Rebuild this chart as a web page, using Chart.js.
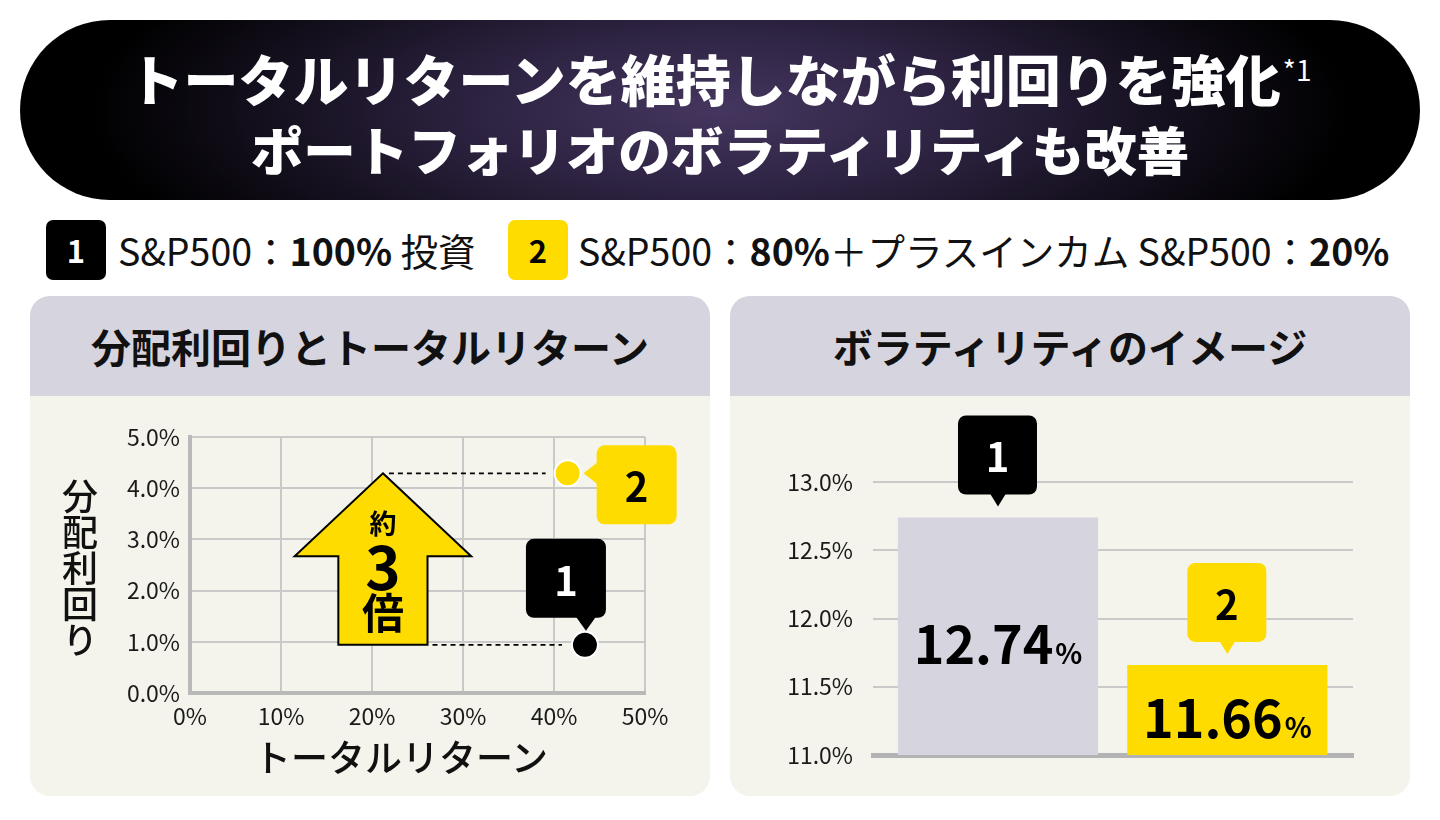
<!DOCTYPE html>
<html lang="ja">
<head>
<meta charset="utf-8">
<script src="https://cdn.jsdelivr.net/npm/chart.js@4.4.1/dist/chart.umd.min.js"></script>
<style>
  body { margin:0; width:1440px; height:820px; background:#fff; position:relative; overflow:hidden;
         font-family:"Noto Sans CJK JP","Noto Sans",sans-serif; color:#111; }
  .header { position:absolute; left:20px; top:20px; width:1400px; height:180px; border-radius:90px;
            background:radial-gradient(ellipse 45% 120% at 50% 50%, #45365f 0%, #2c2240 40%, #000 100%); }
  .title { position:absolute; left:0; width:100%; text-align:center; color:#fff; font-weight:900;
           font-size:55px; line-height:56px; white-space:nowrap; }
  .title .note { font-size:28px; font-weight:400; position:relative; top:-20px; margin-left:2px; }
  .badge { position:absolute; top:220px; width:60px; height:60px; border-radius:7px; text-align:center;
           line-height:60px; font-size:31px; font-weight:700; }
  .b1 { background:#000; color:#fff; }
  .b2 { background:#ffdc00; color:#000; }
  .leg { position:absolute; top:226px; font-size:37.5px; line-height:48px; white-space:nowrap; }
  .leg b { font-weight:700; }
  .panel { position:absolute; top:296px; width:680px; height:500px; border-radius:20px; overflow:hidden;
           background:#f4f4ec; }
  .panel .ph { height:100px; background:#d6d5df; text-align:center; line-height:100px;
               font-size:40px; font-weight:700; }
  .panel canvas { position:absolute; left:0; top:100px; }
  .ytitle { position:absolute; left:32px; top:182px; writing-mode:vertical-rl; text-orientation:upright;
            font-size:36px; line-height:36px; font-weight:500; }
  .xtitle { position:absolute; left:130px; width:482px; top:438px; text-align:center; font-size:37px;
            line-height:44px; font-weight:500; }
</style>
</head>
<body>
<div class="header">
  <div class="title" style="top:29px">トータルリターンを維持しながら利回りを強化<span class="note">*1</span></div>
  <div class="title" style="top:100px; font-size:52.5px">ポートフォリオのボラティリティも改善</div>
</div>

<div class="badge b1" style="left:46px">1</div>
<div class="leg" style="left:118px">S&amp;P500：<b>100%</b> 投資</div>
<div class="badge b2" style="left:508px">2</div>
<div class="leg" style="left:578px">S&amp;P500：<b>80%</b>＋プラスインカム S&amp;P500：<b>20%</b></div>

<div class="panel" style="left:30px">
  <div class="ph">分配利回りとトータルリターン</div>
  <canvas id="scatterChart" width="680" height="400"></canvas>
  <div class="ytitle">分配利回り</div>
  <div class="xtitle">トータルリターン</div>
</div>

<div class="panel" style="left:730px">
  <div class="ph">ボラティリティのイメージ</div>
  <canvas id="volChart" width="680" height="400"></canvas>
</div>

<script>
// portfolios: 1 = S&P500 100%, 2 = S&P500 80% + plus income 20%
const portfolioNames = ["1", "2"];
const totalReturn = [43.4, 41.5];   // %
const distYield = [0.94, 4.29];     // %
const returnTicks = [0, 10, 20, 30, 40, 50];
const yieldTicks = [0, 1, 2, 3, 4, 5];

const volatility = [12.74, 11.66];  // %
const volTicks = [11.0, 11.5, 12.0, 12.5, 13.0];

const FONT = '"Noto Sans CJK JP", "Noto Sans", sans-serif';
const YELLOW = "#ffdc00";
const GRID = "#c9c9c9";

// rounded box with a little pointer triangle
function callout(ctx, bx, by, w, h, fill, label, textColor, tri) {
  ctx.save();
  ctx.fillStyle = fill;
  ctx.beginPath();
  ctx.roundRect(bx, by, w, h, 8);
  ctx.fill();
  ctx.beginPath();
  ctx.moveTo(tri[0], tri[1]);
  ctx.lineTo(tri[2], tri[3]);
  ctx.lineTo(tri[4], tri[5]);
  ctx.closePath();
  ctx.fill();
  ctx.fillStyle = textColor;
  ctx.font = "700 40px " + FONT;
  ctx.textAlign = "center";
  ctx.textBaseline = "middle";
  ctx.fillText(label, bx + w / 2, by + h / 2 + 2);
  ctx.restore();
}

// arrow shape in data units
const arrowCenter = 21.2, headHalf = 9.7, shaftHalf = 4.9, headBase = 2.67;

const scatterDecor = {
  id: "scatterDecor",
  beforeDatasetsDraw(chart) {
    const { ctx, scales: { x, y } } = chart;
    const tipY = y.getPixelForValue(distYield[1]);
    const botY = y.getPixelForValue(distYield[0]);
    const cx = x.getPixelForValue(arrowCenter);
    const hl = x.getPixelForValue(arrowCenter - headHalf);
    const hr = x.getPixelForValue(arrowCenter + headHalf);
    const sl = x.getPixelForValue(arrowCenter - shaftHalf);
    const sr = x.getPixelForValue(arrowCenter + shaftHalf);
    const hb = y.getPixelForValue(headBase);

    ctx.save();
    ctx.beginPath();
    ctx.moveTo(cx, tipY);
    ctx.lineTo(hr, hb);
    ctx.lineTo(sr, hb);
    ctx.lineTo(sr, botY);
    ctx.lineTo(sl, botY);
    ctx.lineTo(sl, hb);
    ctx.lineTo(hl, hb);
    ctx.closePath();
    ctx.fillStyle = YELLOW;
    ctx.fill();
    ctx.lineWidth = 2;
    ctx.strokeStyle = "#000";
    ctx.stroke();

    ctx.fillStyle = "#000";
    ctx.textAlign = "center";
    ctx.textBaseline = "middle";
    ctx.font = "700 27px " + FONT;
    ctx.fillText("約", cx, tipY + 50);
    ctx.font = "700 60px " + FONT;
    ctx.fillText("3", cx, tipY + 94);
    ctx.font = "700 42px " + FONT;
    ctx.fillText("倍", cx, tipY + 140);

    // dashed guides
    const p1x = x.getPixelForValue(totalReturn[0]);
    const p2x = x.getPixelForValue(totalReturn[1]);
    ctx.setLineDash([5, 4]);
    ctx.lineWidth = 1.6;
    ctx.strokeStyle = "#000";
    ctx.beginPath();
    ctx.moveTo(cx + 6, tipY);
    ctx.lineTo(p2x - 22, tipY);
    ctx.moveTo(sr + 5, botY);
    ctx.lineTo(p1x - 23, botY);
    ctx.stroke();
    ctx.restore();
  },
  afterDatasetsDraw(chart) {
    const { ctx, scales: { x, y } } = chart;
    const p1x = x.getPixelForValue(totalReturn[0]), p1y = y.getPixelForValue(distYield[0]);
    const p2x = x.getPixelForValue(totalReturn[1]), p2y = y.getPixelForValue(distYield[1]);
    callout(ctx, p2x + 29, p2y - 28, 80, 79, YELLOW, portfolioNames[1], "#000",
      [p2x + 30, p2y - 11, p2x + 30, p2y + 11, p2x + 16, p2y]);
    callout(ctx, p1x - 59, p1y - 106, 80, 79, "#000", portfolioNames[0], "#fff",
      [p1x - 9, p1y - 28, p1x + 11, p1y - 28, p1x + 1, p1y - 14]);
  }
};

new Chart(document.getElementById("scatterChart"), {
  type: "scatter",
  data: {
    datasets: [{
      data: totalReturn.map((r, i) => ({ x: r, y: distYield[i] })),
      backgroundColor: ["#000", YELLOW],
      borderColor: "#fff",
      borderWidth: 2,
      pointRadius: 13,
      pointHoverRadius: 13
    }]
  },
  options: {
    responsive: false,
    animation: false,
    layout: { padding: { left: 0, top: 41, right: 65, bottom: 0 } },
    plugins: { legend: { display: false }, tooltip: { enabled: false } },
    scales: {
      x: {
        type: "linear", min: 0, max: 50,
        afterBuildTicks: s => { s.ticks = returnTicks.map(v => ({ value: v })); },
        afterFit: s => { s.height = 103; },
        ticks: { callback: v => v + "%", color: "#1a1a1a", padding: 9, font: { family: FONT, size: 23 } },
        grid: { color: GRID, lineWidth: 2, drawTicks: false },
        border: { color: "#b9b9b9", width: 4 }
      },
      y: {
        min: 0, max: 5,
        afterBuildTicks: s => { s.ticks = yieldTicks.map(v => ({ value: v })); },
        afterFit: s => { s.width = 160; },
        ticks: { callback: v => v.toFixed(1) + "%", color: "#1a1a1a", padding: 10, font: { family: FONT, size: 23 } },
        grid: { color: GRID, lineWidth: 2, drawTicks: false },
        border: { color: "#b9b9b9", width: 4 }
      }
    }
  },
  plugins: [scatterDecor]
});

const volDecor = {
  id: "volDecor",
  afterDatasetsDraw(chart) {
    const { ctx, chartArea } = chart;
    const bars = chart.getDatasetMeta(0).data;
    bars.forEach((bar, i) => {
      const top = bar.y;
      const mid = (top + chartArea.bottom) / 2 + 8;
      const num = volatility[i].toFixed(2);
      ctx.save();
      ctx.fillStyle = "#000";
      ctx.textBaseline = "middle";
      ctx.font = "700 52px " + FONT;
      const wn = ctx.measureText(num).width;
      ctx.font = "700 28px " + FONT;
      const wp = ctx.measureText("%").width;
      const start = bar.x - (wn + wp + 2) / 2;
      ctx.textAlign = "left";
      ctx.font = "700 52px " + FONT;
      ctx.fillText(num, start, mid);
      ctx.font = "700 28px " + FONT;
      ctx.fillText("%", start + wn + 2, mid + 9);
      ctx.restore();

      const fill = i === 0 ? "#000" : YELLOW;
      const tc = i === 0 ? "#fff" : "#000";
      const bb = top - 23;
      callout(ctx, bar.x - 40, bb - 79, 79, 79, fill, portfolioNames[i], tc,
        [bar.x - 8, bb - 1, bar.x + 8, bb - 1, bar.x, top - 11]);
    });
  }
};

new Chart(document.getElementById("volChart"), {
  type: "bar",
  data: {
    datasets: [{
      data: volatility.map((v, i) => ({ x: i, y: v })),
      backgroundColor: ["#d6d5df", YELLOW],
      borderWidth: 0,
      barPercentage: 0.873,
      categoryPercentage: 1.0
    }]
  },
  options: {
    responsive: false,
    animation: false,
    layout: { padding: { left: 0, top: 86, right: 57, bottom: 41 } },
    plugins: { legend: { display: false }, tooltip: { enabled: false } },
    scales: {
      x: {
        type: "linear", min: -0.545, max: 1.548, offset: false,
        afterBuildTicks: s => { s.ticks = portfolioNames.map((n, i) => ({ value: i })); },
        ticks: { display: false },
        grid: { display: false, drawTicks: false },
        border: { color: "#b3b3b3", width: 5 },
        afterFit: s => { s.height = 0; }
      },
      y: {
        min: 11, max: 13,
        afterBuildTicks: s => { s.ticks = volTicks.map(v => ({ value: v })); },
        afterFit: s => { s.width = 143; },
        ticks: { callback: v => v.toFixed(1) + "%", color: "#1a1a1a", padding: 20, font: { family: FONT, size: 23 } },
        grid: { color: GRID, lineWidth: 2, drawTicks: false },
        border: { display: false }
      }
    }
  },
  plugins: [volDecor]
});
</script>
</body>
</html>
